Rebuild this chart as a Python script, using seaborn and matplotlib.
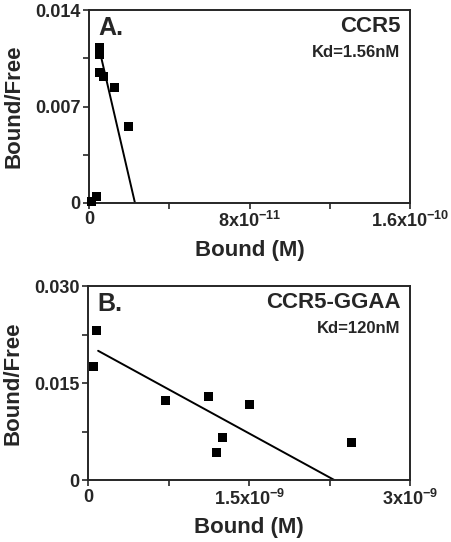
import numpy as np
import pandas as pd
import matplotlib
matplotlib.use("Agg")
import matplotlib.pyplot as plt
import seaborn as sns

# panel A: CCR5
a_bound = [1.0e-12, 3.8e-12, 5.2e-12, 5.2e-12, 5.2e-12, 7.1e-12, 12.6e-12, 19.8e-12]
a_ratio = [0.0001, 0.0005, 0.0113, 0.01074, 0.00948, 0.00919, 0.00839, 0.00556]
a_fit_x = [6.0e-12, 2.29e-11]
a_fit_y = [0.0106, 0.0]

# panel B: CCR5-GGAA
b_bound = [0.05e-9, 0.078e-9, 0.725e-9, 1.126e-9, 1.505e-9, 1.25e-9, 1.194e-9, 2.456e-9]
b_ratio = [0.0175, 0.0232, 0.01237, 0.01288, 0.01164, 0.00659, 0.00427, 0.00581]
b_fit_x = [0.093e-9, 2.30e-9]
b_fit_y = [0.020, 0.0]

sns.set_style("ticks")
plt.rcParams['font.family'] = ['Liberation Sans', 'DejaVu Sans']
plt.rcParams['font.weight'] = 'bold'
plt.rcParams['mathtext.fontset'] = 'custom'
plt.rcParams['mathtext.rm'] = 'Liberation Sans:bold'
plt.rcParams['mathtext.bf'] = 'Liberation Sans:bold'
plt.rcParams['mathtext.default'] = 'rm'

fig = plt.figure(figsize=(4.52, 5.42), dpi=100)
ax_a = fig.add_axes([0.197, 0.6255, 0.710, 0.356])
ax_b = fig.add_axes([0.195, 0.1138, 0.712, 0.3585])


def draw_panel(ax, xs, ys, fx, fy, xmax, ymax, xlabels, ylabels, letter, name, kd):
    df = pd.DataFrame({'bound': xs, 'ratio': ys})
    sns.scatterplot(data=df, x='bound', y='ratio', marker='s', s=42, color='black',
                    edgecolor='none', ax=ax, zorder=3, clip_on=False)
    fit = pd.DataFrame({'bound': fx, 'ratio': fy})
    sns.lineplot(data=fit, x='bound', y='ratio', color='black', linewidth=1.4, ax=ax)
    ax.set_xlim(0, xmax)
    ax.set_ylim(0, ymax)
    ax.set_xticks(np.linspace(0, xmax, 5))
    ax.set_xticklabels(xlabels)
    ax.set_yticks(np.linspace(0, ymax, 5))
    ax.set_yticklabels(ylabels)
    for sp in ax.spines.values():
        sp.set_visible(True)
        sp.set_linewidth(1.4)
    ax.tick_params(width=1.2, length=4, labelsize=13, pad=2)
    for lab in ax.get_xticklabels() + ax.get_yticklabels():
        lab.set_fontweight('bold')
    ax.set_xlabel('Bound (M)', fontsize=16, fontweight='bold', labelpad=6)
    ax.set_ylabel('Bound/Free', fontsize=16, fontweight='bold')
    ax.yaxis.set_label_coords(-0.20, 0.5)
    ax.text(0.03, 0.97, letter, transform=ax.transAxes, fontsize=18,
            fontweight='bold', va='top', ha='left')
    ax.text(0.97, 0.97, name, transform=ax.transAxes, fontsize=16,
            fontweight='bold', va='top', ha='right')
    ax.text(0.97, 0.82, kd, transform=ax.transAxes, fontsize=12,
            fontweight='bold', va='top', ha='right')


draw_panel(ax_a, a_bound, a_ratio, a_fit_x, a_fit_y, 1.6e-10, 0.014,
           ['0', '', r'8x10$^{-11}$', '', r'1.6x10$^{-10}$'],
           ['0', '', '0.007', '', '0.014'],
           'A.', 'CCR5', 'Kd=1.56nM')
draw_panel(ax_b, b_bound, b_ratio, b_fit_x, b_fit_y, 3e-9, 0.030,
           ['0', '', r'1.5x10$^{-9}$', '', r'3x10$^{-9}$'],
           ['0', '', '0.015', '', '0.030'],
           'B.', 'CCR5-GGAA', 'Kd=120nM')

fig.savefig('out.png', dpi=100)
